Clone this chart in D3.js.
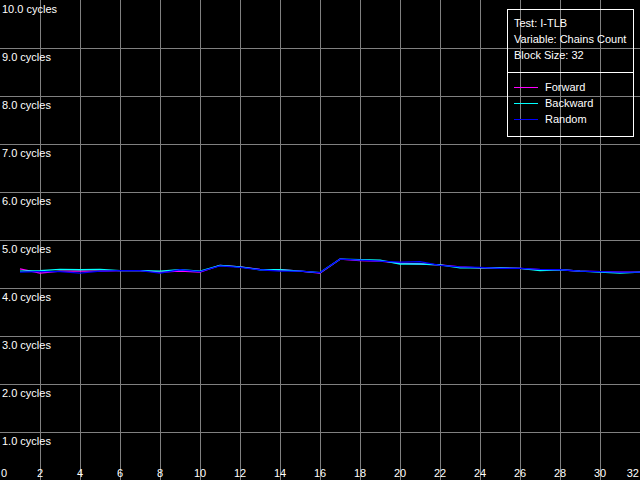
<!DOCTYPE html>
<html><head><meta charset="utf-8">
<script src="https://cdn.jsdelivr.net/npm/d3@7"></script>
<style>html,body{margin:0;padding:0;background:#000;overflow:hidden}svg{display:block}</style>
</head><body><svg id="c" width="640" height="480"></svg>
<script>
const xs = d3.range(1, 33);
const forward  = [4.40,4.31,4.35,4.35,4.35,4.36,4.36,4.33,4.35,4.33,4.47,4.44,4.39,4.38,4.35,4.31,4.60,4.57,4.56,4.52,4.50,4.48,4.44,4.42,4.42,4.41,4.38,4.38,4.35,4.34,4.33,4.33];
const backward = [4.35,4.36,4.39,4.38,4.39,4.36,4.36,4.35,4.38,4.35,4.47,4.44,4.38,4.38,4.35,4.32,4.60,4.59,4.58,4.50,4.50,4.48,4.42,4.42,4.42,4.41,4.36,4.38,4.35,4.33,4.31,4.33];
const random   = [4.33,4.34,4.34,4.31,4.35,4.36,4.36,4.31,4.38,4.34,4.46,4.43,4.38,4.35,4.35,4.32,4.60,4.58,4.56,4.54,4.55,4.47,4.44,4.43,4.41,4.41,4.39,4.38,4.35,4.34,4.33,4.33];
const xTicks = d3.range(0, 33, 2);
const yTicks = d3.range(1, 11);
const infoLines = ["Test: I-TLB", "Variable: Chains Count", "Block Size: 32"];
const seriesNames = ["Forward", "Backward", "Random"];
const seriesColors = ["#ff00ff", "#00ffff", "#0000ff"];

const W = 640, H = 480;
const svg = d3.select("#c");
svg.append("rect").attr("width", W).attr("height", H).attr("fill", "#000");
const x = d3.scaleLinear().domain([0, 32]).range([0, 640]);
const y = d3.scaleLinear().domain([0, 10]).range([480, 0]);
const font = "'Liberation Sans', Arial, sans-serif";

// grid
const g = svg.append("g");
g.selectAll("rect.v").data(xTicks.filter(d => d > 0 && d < 32)).enter().append("rect")
  .attr("x", d => Math.round(x(d))).attr("y", 0).attr("width", 1).attr("height", H).attr("fill", "#808080");
g.selectAll("rect.h").data(yTicks.filter(d => d < 10)).enter().append("rect")
  .attr("y", d => Math.round(y(d))).attr("x", 0).attr("height", 1).attr("width", W).attr("fill", "#808080");

// y labels
svg.selectAll("text.yl").data(yTicks).enter().append("text")
  .attr("x", 2).attr("y", d => y(d) + 13)
  .attr("fill", "#fff").attr("font-family", font).attr("font-size", 11)
  .text(d => d.toFixed(1) + " cycles");

// x labels
svg.selectAll("text.xl").data(xTicks).enter().append("text")
  .attr("x", d => d === 0 ? 1 : (d === 32 ? 639 : x(d)))
  .attr("y", 477)
  .attr("text-anchor", d => d === 0 ? "start" : (d === 32 ? "end" : "middle"))
  .attr("fill", "#fff").attr("font-family", font).attr("font-size", 11)
  .text(d => d);

// series
const line = d3.line().x((d, i) => x(xs[i])).y(d => y(d));
[forward, backward, random].forEach((s, i) => {
  svg.append("path").datum(s).attr("d", line)
    .attr("fill", "none").attr("stroke", seriesColors[i]).attr("stroke-width", 1.3);
});

// legend
const lg = svg.append("g");
lg.append("rect").attr("x", 507).attr("y", 9).attr("width", 127).attr("height", 1).attr("fill", "#fff");
lg.append("rect").attr("x", 507).attr("y", 136).attr("width", 127).attr("height", 1).attr("fill", "#fff");
lg.append("rect").attr("x", 507).attr("y", 9).attr("width", 1).attr("height", 128).attr("fill", "#fff");
lg.append("rect").attr("x", 633).attr("y", 9).attr("width", 1).attr("height", 128).attr("fill", "#fff");
lg.append("rect").attr("x", 507).attr("y", 72).attr("width", 127).attr("height", 1).attr("fill", "#fff");
lg.selectAll("text.info").data(infoLines).enter().append("text")
  .attr("x", 514).attr("y", (d, i) => 27 + i * 16)
  .attr("fill", "#fff").attr("font-family", font).attr("font-size", 11).text(d => d);
seriesNames.forEach((n, i) => {
  lg.append("rect").attr("x", 514).attr("y", 87 + i * 16).attr("width", 24).attr("height", 1)
    .attr("fill", seriesColors[i]);
  lg.append("text").attr("x", 545).attr("y", 91 + i * 16)
    .attr("fill", "#fff").attr("font-family", font).attr("font-size", 11).text(n);
});
</script></body></html>
